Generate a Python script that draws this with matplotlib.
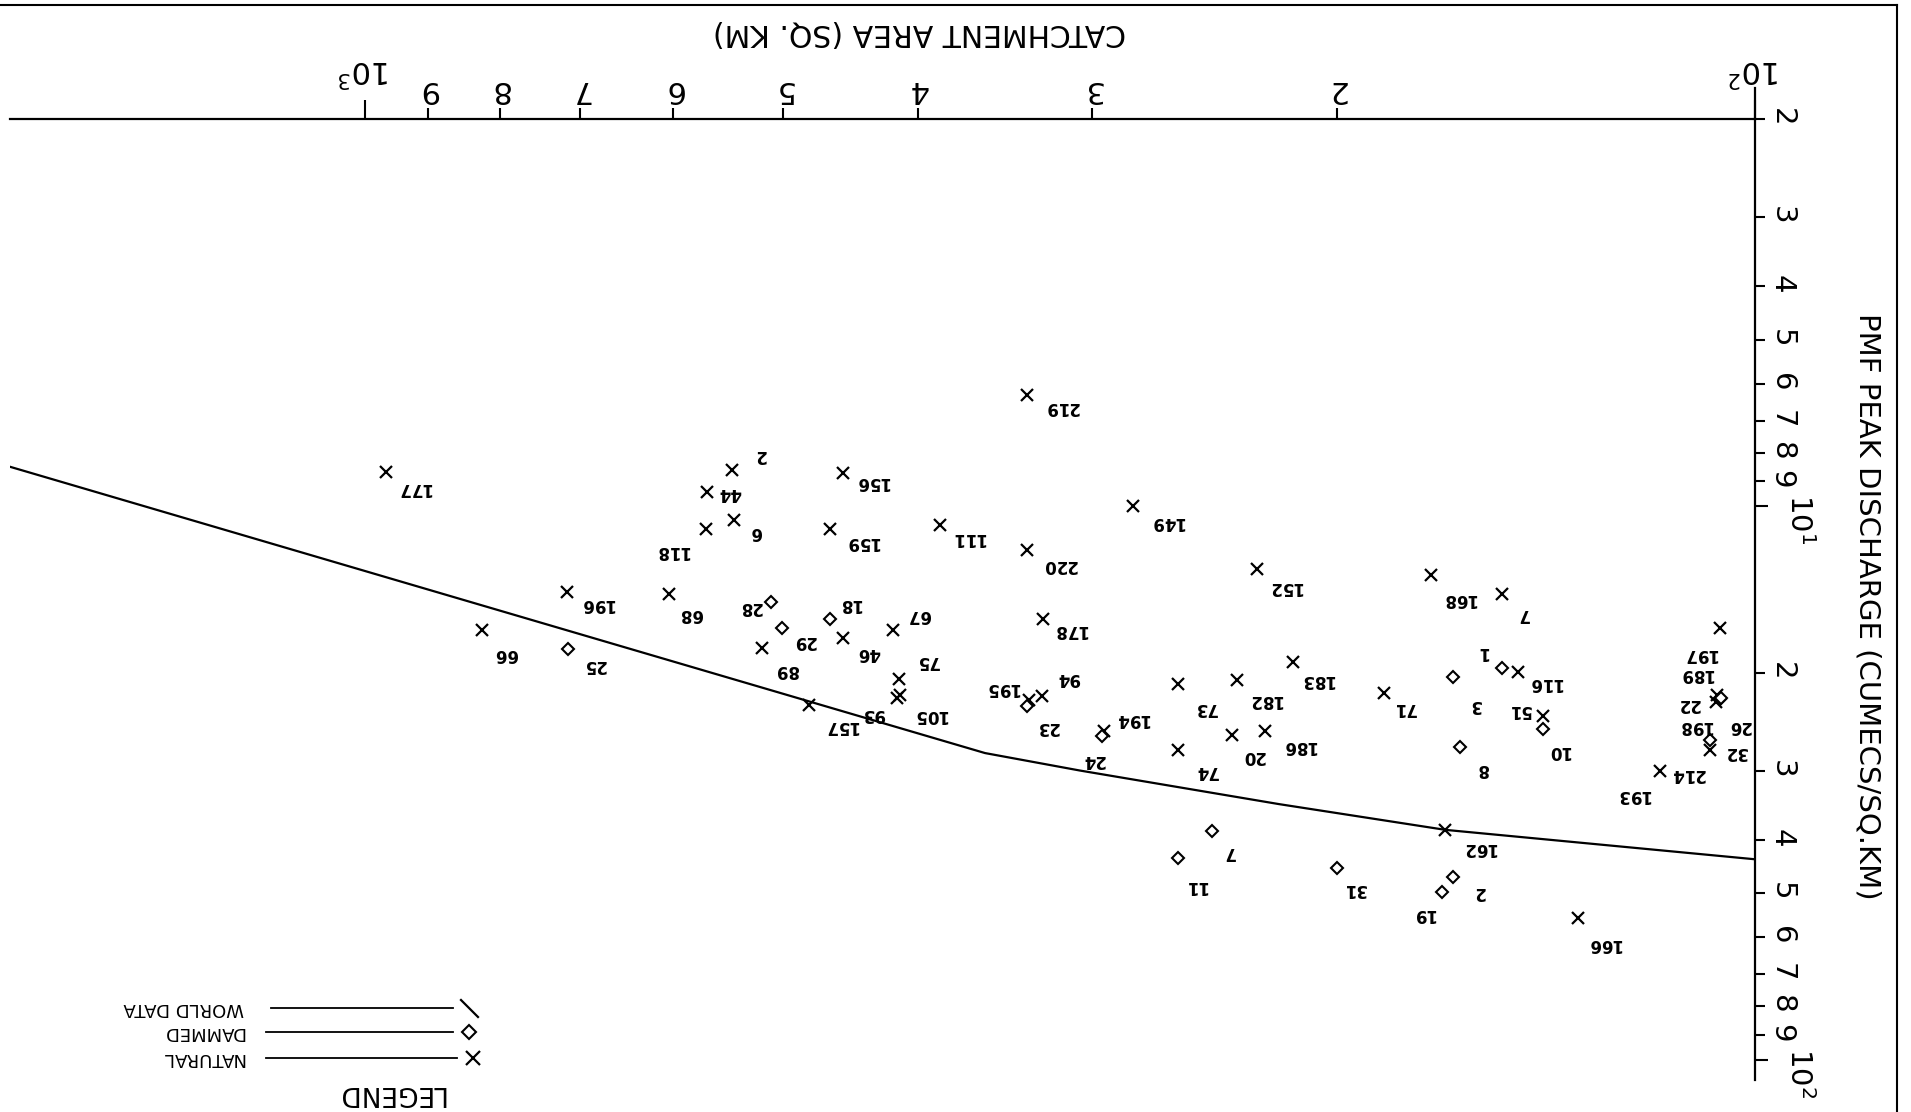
import numpy as np
import matplotlib.pyplot as plt
from matplotlib.lines import Line2D
from matplotlib.ticker import FixedLocator, FixedFormatter

plt.rcParams['font.family'] = ['DejaVu Sans']
plt.rcParams['mathtext.fontset'] = 'dejavusans'

# natural catchments (X)
nat_id = [177, 66, 196, 68, 118, 6, 44, 2, 156, 159, 111, 220, 219, 149, 152,
          168, 7, 197, 189, 198, 214, 193, 166, 162, 116, 51, 71, 183, 182, 73,
          186, 20, 74, 194, 94, 195, 178, 67, 75, 105, 93, 157, 46, 89]
nat_area = [965, 824, 715, 604, 568, 543, 567, 544, 453, 463, 386, 334, 334, 280, 228,
            171, 152, 106, 106.5, 106.7, 107.8, 117, 134, 167, 148, 142, 185, 215, 236, 260,
            225, 238, 260, 294, 326, 333, 325, 417, 413, 412, 414, 479, 453, 518]
nat_q = [8.65, 16.7, 14.3, 14.4, 11.0, 10.6, 9.4, 8.6, 8.7, 11.0, 10.8, 12.0, 6.3, 10.0, 13.0,
         13.3, 14.4, 16.6, 21.9, 22.6, 27.6, 30.0, 55.4, 38.4, 19.9, 23.9, 21.7, 19.1, 20.6, 20.9,
         25.5, 25.9, 27.6, 25.5, 22.0, 22.4, 16.0, 16.7, 20.5, 21.9, 22.2, 22.8, 17.3, 18.0]

# dammed catchments (diamond)
dam_id = [18, 29, 28, 25, 3, 1, 10, 8, 2, 19, 31, 7, 11, 22, 26, 32, 24, 23]
dam_area = [463, 501, 510, 714, 165, 152, 142, 163, 165, 168, 200, 246, 260, 106, 105.8, 107.8, 295, 334]
dam_q = [16.0, 16.6, 14.9, 18.1, 20.3, 19.6, 25.2, 27.2, 46.8, 49.8, 45.0, 38.6, 43.2, 22.3, 22.2, 26.4, 26.0, 22.9]

# world data envelope
world_area = [1800, 358, 306, 220, 167, 100]
world_q = [8.48, 27.9, 30.0, 34.5, 38.4, 43.4]

x_major = [100, 1000]
x_major_lab = ['$10^{2}$', '$10^{3}$']
x_minor = [200, 300, 400, 500, 600, 700, 800, 900]
x_minor_lab = ['2', '3', '4', '5', '6', '7', '8', '9']
y_major = [10, 100]
y_major_lab = ['$10^{1}$', '$10^{2}$']
y_minor = [2, 3, 4, 5, 6, 7, 8, 9, 20, 30, 40, 50, 60, 70, 80, 90]
y_minor_lab = ['2', '3', '4', '5', '6', '7', '8', '9'] * 2

# label offsets in pixels (right, down) as seen on the sheet
nat_off = {177: (27, 16), 66: (24, 24), 196: (29, 12), 68: (21, 20), 118: (-34, 22),
           6: (22, 12), 44: (22, 1), 2: (27, -15), 156: (29, 9), 159: (32, 13),
           111: (28, 13), 220: (32, 15), 219: (34, 12), 149: (33, 16), 152: (27, 18),
           168: (28, 24), 7: (21, 20), 197: (-20, 26), 189: (-21, -21), 198: (-21, 24),
           214: (-22, 24), 193: (-27, 24), 166: (26, 26), 162: (33, 18), 116: (27, 11),
           51: (-24, -6), 71: (21, 15), 183: (24, 18), 182: (28, 20), 73: (27, 24),
           186: (34, 15), 20: (22, 21), 74: (28, 21), 194: (28, -12), 94: (27, -18),
           195: (-27, -12), 178: (26, 11), 67: (26, -15), 75: (29, -18), 105: (30, 20),
           93: (-24, 16), 157: (32, 21), 46: (26, 15), 89: (24, 22)}
dam_off = {18: (20, -15), 29: (22, 13), 28: (-21, 5), 25: (26, 16), 3: (22, 28),
           1: (-20, -16), 10: (15, 22), 8: (22, 22), 2: (26, 15), 19: (-18, 22),
           31: (18, 21), 7: (18, 21), 11: (18, 28), 22: (-32, 5), 26: (18, 28),
           32: (26, 12), 24: (-9, 24), 23: (20, 21)}

W, H = 1911, 1112
fig = plt.figure(figsize=(W / 100, H / 100), dpi=100)


def fx(px):
    return px / W


def fy(py):
    return 1 - py / H


def pline(xs, ys, **kw):
    fig.add_artist(Line2D([fx(v) for v in xs], [fy(v) for v in ys],
                          transform=fig.transFigure, color='k', **kw))


ax = fig.add_axes([fx(10), fy(1080), fx(1755) - fx(10), fy(119.5) - fy(1080)])
ax.set_xscale('log')
ax.set_yscale('log')
ax.set_xlim(1800, 100)
ax.set_ylim(108.7, 2)

for s in ['left', 'bottom']:
    ax.spines[s].set_visible(False)
for s in ['top', 'right']:
    ax.spines[s].set_linewidth(1.6)

ax.xaxis.tick_top()
ax.yaxis.tick_right()
ax.xaxis.set_major_locator(FixedLocator(x_major))
ax.xaxis.set_major_formatter(FixedFormatter(x_major_lab))
ax.xaxis.set_minor_locator(FixedLocator(x_minor))
ax.xaxis.set_minor_formatter(FixedFormatter(x_minor_lab))
ax.yaxis.set_major_locator(FixedLocator(y_major))
ax.yaxis.set_major_formatter(FixedFormatter(y_major_lab))
ax.yaxis.set_minor_locator(FixedLocator(y_minor))
ax.yaxis.set_minor_formatter(FixedFormatter(y_minor_lab))

ax.tick_params(axis='x', which='major', direction='out', length=14, width=1.5,
               labelsize=22, labelrotation=180, pad=10)
ax.tick_params(axis='x', which='minor', direction='out', length=8, width=1.5,
               labelsize=22, labelrotation=180, pad=3)
ax.tick_params(axis='y', which='major', direction='out', length=9, width=1.5,
               labelsize=21, labelrotation=270, pad=12)
ax.tick_params(axis='y', which='minor', direction='out', length=7, width=1.5,
               labelsize=21, labelrotation=270, pad=2)

# world data line
ax.plot(world_area, world_q, color='k', lw=1.6)

# points
ax.plot(nat_area, nat_q, linestyle='none', marker='x', ms=9, mew=1.6, color='k')
ax.plot(dam_area, dam_q, linestyle='none', marker='D', ms=6, mew=1.5,
        mfc='white', mec='k')

for i, a, q in zip(nat_id, nat_area, nat_q):
    dx, dy = nat_off[i]
    ax.annotate(str(i), (a, q), xytext=(dx, -dy), textcoords='offset pixels',
                rotation=180, ha='center', va='center', fontsize=12, fontweight='bold')
for i, a, q in zip(dam_id, dam_area, dam_q):
    dx, dy = dam_off[i]
    ax.annotate(str(i), (a, q), xytext=(dx, -dy), textcoords='offset pixels',
                rotation=180, ha='center', va='center', fontsize=12, fontweight='bold')

# axis titles
fig.text(fx(920), fy(33), 'CATCHMENT AREA (SQ. KM)', rotation=180,
         ha='center', va='center', fontsize=21.5)
fig.text(fx(1867), fy(606), 'PMF PEAK DISCHARGE (CUMECS/SQ.KM)', rotation=270,
         ha='center', va='center', fontsize=21)

# sheet border and axis stub
pline([0, 1897], [5, 5], lw=1.5)
pline([1897, 1897], [5, 1112], lw=1.5)
pline([1755, 1755], [88, 119.5], lw=1.6)

# legend
pline([271, 453], [1008, 1008], lw=1.3)
pline([461, 478], [1000, 1017], lw=1.6)
pline([266, 453], [1032, 1032], lw=1.3)
pline([469], [1032], marker='D', ms=7, mew=1.5, mfc='white', mec='k', ls='none')
pline([266, 457], [1058, 1058], lw=1.3)
pline([473], [1058], marker='x', ms=10, mew=1.6, ls='none')
fig.text(fx(244), fy(1008), 'WORLD DATA', rotation=180, ha='right', va='center', fontsize=13)
fig.text(fx(244), fy(1032), 'DAMMED', rotation=180, ha='right', va='center', fontsize=13)
fig.text(fx(244), fy(1058), 'NATURAL', rotation=180, ha='right', va='center', fontsize=13)
fig.text(fx(390), fy(1093), 'LEGEND', rotation=180, ha='center', va='center', fontsize=19)

fig.savefig('out.png', dpi=100, facecolor='white')
